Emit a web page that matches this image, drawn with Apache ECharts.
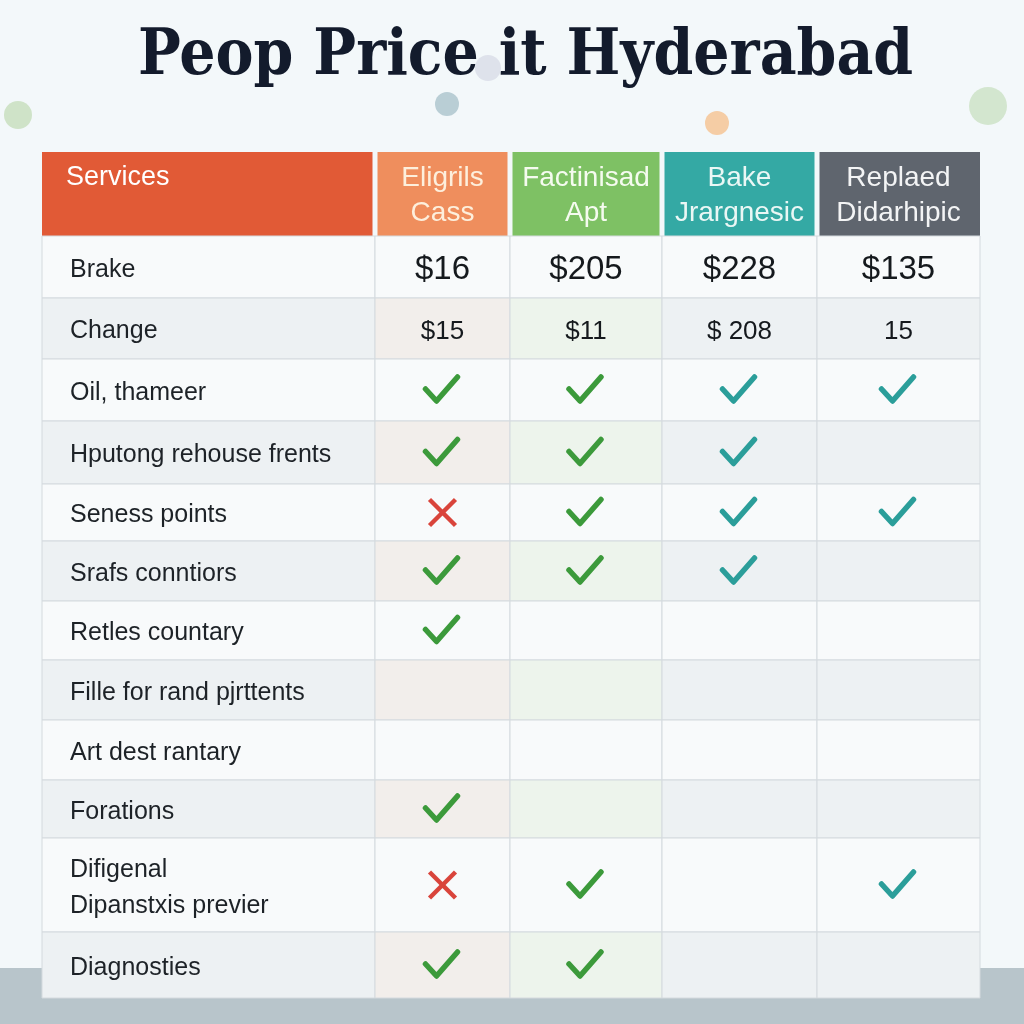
<!DOCTYPE html>
<html><head><meta charset="utf-8">
<script src="https://cdn.jsdelivr.net/npm/echarts@6/dist/echarts.min.js"></script>
<style>html,body{margin:0;padding:0;background:#f3f8fa}#c{width:1024px;height:1024px}</style>
</head><body><div id="c"></div>
<script>
// ---- data ----
const titleText = 'Peop Price it Hyderabad';
const headers = ['Services', 'Eligrils\nCass', 'Factinisad\nApt', 'Bake\nJrargnesic', 'Replaed\nDidarhipic'];
const services = ['Brake', 'Change', 'Oil, thameer', 'Hputong rehouse frents', 'Seness points', 'Srafs conntiors',
  'Retles countary', 'Fille for rand pjrttents', 'Art dest rantary', 'Forations', 'Difigenal\nDipanstxis previer', 'Diagnosties'];
const eligrilsCass   = ['$16',  '$15',   'yes', 'yes', 'no',  'yes', 'yes', '', '', 'yes', 'no',  'yes'];
const factinisadApt  = ['$205', '$11',   'yes', 'yes', 'yes', 'yes', '',    '', '', '',    'yes', 'yes'];
const bakeJrargnesic = ['$228', '$ 208', 'yes', 'yes', 'yes', 'yes', '',    '', '', '',    '',    ''];
const replaedDidar   = ['$135', '15',    'yes', '',    'yes', '',    '',    '', '', '',    'yes', ''];
const plans = [eligrilsCass, factinisadApt, bakeJrargnesic, replaedDidar];

// ---- layout (pixel extents of columns / rows inside the grid) ----
const colEdges = [0, 333, 468, 620, 775, 938];
const rowEdges = [0, 84, 146, 207, 269, 332, 389, 449, 508, 568, 628, 686, 780, 846];
const headerColors = ['#e15a36', '#ef8e5d', '#7ec164', '#34a9a4', '#5f656e'];
const headerText = ['#ffffff', '#fdefdc', '#f5fbef', '#eaf7f5', '#f3f4f5'];
const markColors = ['#3c9a3b', '#3c9a3b', '#2b9e9a', '#2b9e9a'];

const cells = [];
headers.forEach((h, c) => cells.push({col: c, row: 0, kind: 'header', text: h}));
services.forEach((s, i) => {
  cells.push({col: 0, row: i + 1, kind: 'label', text: s});
  plans.forEach((p, j) => cells.push({col: j + 1, row: i + 1, kind: 'value', text: p[i]}));
});

function rowBg(row, col) {
  const grey = row % 2 === 0;
  if (!grey) return '#f8fafb';
  if (col === 1) return '#f2eeeb';
  if (col === 2) return '#edf4ec';
  return '#edf1f3';
}

const FONT = '"Liberation Sans", Arial, sans-serif';

function renderItem(params, api) {
  const cell = cells[params.dataIndex];
  const c = cell.col, r = cell.row;
  const p0 = api.coord([colEdges[c], rowEdges[r]]);
  const p1 = api.coord([colEdges[c + 1], rowEdges[r + 1]]);
  const x = p0[0], y = p0[1], w = p1[0] - p0[0], h = p1[1] - p0[1];
  const cx = x + w / 2, cy = y + h / 2;
  const children = [];
  if (cell.kind === 'header') {
    const gl = c === 0 ? 0 : 2.5, gr = c === 4 ? 0 : 2.5;
    children.push({type: 'rect', shape: {x: x + gl, y: y, width: w - gl - gr, height: h},
      style: {fill: headerColors[c]}});
    if (c === 0) {
      children.push({type: 'text', style: {text: cell.text, x: x + 24, y: y + 26, textVerticalAlign: 'middle',
        fill: headerText[c], font: '27px ' + FONT}});
    } else {
      children.push({type: 'text', style: {text: cell.text, x: cx, y: cy + 2, textAlign: 'center', textVerticalAlign: 'middle',
        lineHeight: 35, fill: headerText[c], font: '28px ' + FONT}});
    }
    return {type: 'group', children};
  }
  children.push({type: 'rect', shape: {x, y, width: w, height: h},
    style: {fill: rowBg(r, c), stroke: '#d4dade', lineWidth: 1}});
  if (cell.kind === 'label') {
    children.push({type: 'text', style: {text: cell.text, x: x + 28, y: cy + 3, textVerticalAlign: 'middle',
      lineHeight: 36, fill: '#1d2227', font: '25px ' + FONT}});
  } else if (cell.text === 'yes') {
    children.push({type: 'polyline', shape: {points: [[cx - 17, cy - 1], [cx - 6, cy + 11], [cx + 15, cy - 13]]},
      style: {stroke: markColors[c - 1], lineWidth: 5.5, fill: null, lineCap: 'round', lineJoin: 'round'}});
  } else if (cell.text === 'no') {
    const col = '#d9443b';
    children.push({type: 'line', shape: {x1: cx - 13, y1: cy - 13, x2: cx + 13, y2: cy + 13}, style: {stroke: col, lineWidth: 4.5}});
    children.push({type: 'line', shape: {x1: cx + 13, y1: cy - 13, x2: cx - 13, y2: cy + 13}, style: {stroke: col, lineWidth: 4.5}});
  } else if (cell.text) {
    const big = r === 1;
    children.push({type: 'text', style: {text: cell.text, x: cx, y: cy + 3, textAlign: 'center', textVerticalAlign: 'middle',
      fill: '#15191d', font: (big ? '33px ' : '26px ') + FONT}});
  }
  return {type: 'group', children};
}

const chart = echarts.init(document.getElementById('c'), null, {renderer: 'canvas'});
chart.setOption({
  backgroundColor: '#f3f8fa',
  animation: false,
  graphic: [
    {type: 'rect', z: -10, shape: {x: 0, y: 968, width: 1024, height: 56}, style: {fill: '#b8c5cb'}},
    {type: 'circle', z: -5, shape: {cx: 18, cy: 115, r: 14}, style: {fill: '#cfe3c8'}},
    {type: 'circle', z: -5, shape: {cx: 447, cy: 104, r: 12}, style: {fill: '#b9ced5'}},
    {type: 'text', z: 5, x: 138, y: 25, scaleY: 1.12, originX: 0, originY: 0,
      style: {text: titleText, textVerticalAlign: 'top', fill: '#131b2c',
        font: 'bold 57px "DejaVu Serif", serif'}},
    {type: 'circle', z: 10, shape: {cx: 488, cy: 68, r: 13}, style: {fill: '#dcdfe9', opacity: 0.9}},
    {type: 'circle', z: -5, shape: {cx: 717, cy: 123, r: 12}, style: {fill: '#f5cda5'}},
    {type: 'circle', z: -5, shape: {cx: 988, cy: 106, r: 19}, style: {fill: '#d3e6cf'}}
  ],
  grid: {left: 42, top: 152, width: 938, height: 846},
  xAxis: {type: 'value', min: 0, max: 938, show: false},
  yAxis: {type: 'value', min: 0, max: 846, inverse: true, show: false},
  series: [{
    type: 'custom', renderItem, clip: false,
    data: cells.map(c => [colEdges[c.col], rowEdges[c.row]])
  }]
});
</script></body></html>
